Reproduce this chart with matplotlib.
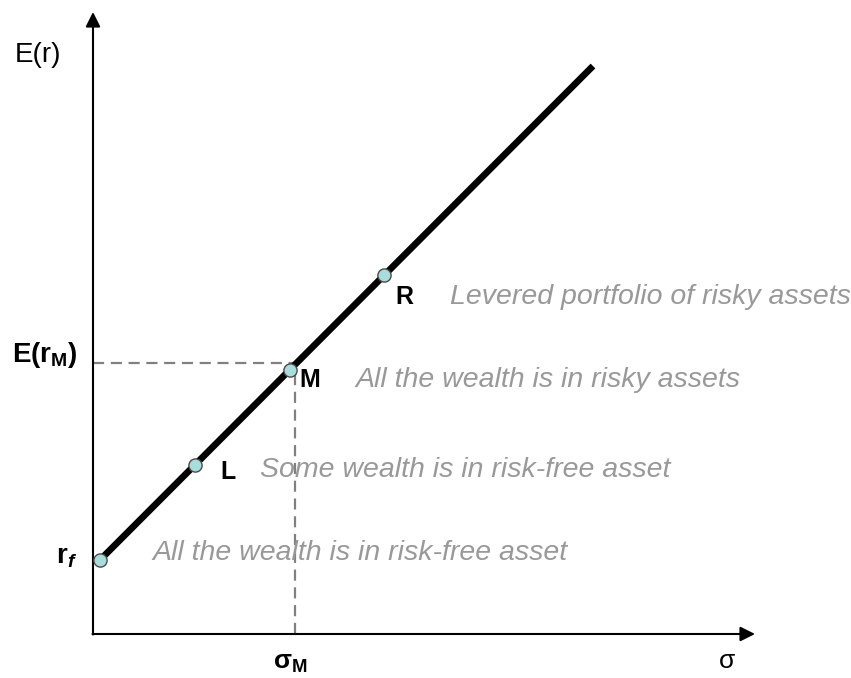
import matplotlib
matplotlib.use('Agg')
import matplotlib.pyplot as plt

plt.rcParams['font.family'] = ['Liberation Sans', 'DejaVu Sans']
plt.rcParams['mathtext.fontset'] = 'custom'
plt.rcParams['mathtext.rm'] = 'Liberation Sans'
plt.rcParams['mathtext.it'] = 'Liberation Sans:italic'
plt.rcParams['mathtext.bf'] = 'Liberation Sans:bold'
plt.rcParams['mathtext.bfit'] = 'Liberation Sans:bold:italic'

# capital allocation line: portfolios (sigma, E(r))
point_names = ['rf', 'L', 'M', 'R']
sigma = [7, 102, 197, 291]
exp_ret = [74, 169, 264, 359]
line_sigma = [7, 500]
line_ret = [74, 568]
sigma_M = 202
E_rM = 271

labels = ['L', 'M', 'R']
label_pos = [(127, 162), (206, 254), (302, 337)]
notes = ['All the wealth is in risk-free asset',
         'Some wealth is in risk-free asset',
         'All the wealth is in risky assets',
         'Levered portfolio of risky assets']
note_pos = [(59, 81), (167, 164), (262, 254), (357, 337)]

fig = plt.figure(figsize=(8.51, 6.78), dpi=100)
ax = fig.add_axes([0, 0, 1, 1])
ax.set_xlim(-93, 758)
ax.set_ylim(-44, 634)
ax.axis('off')

# axes with arrows
ax.annotate('', xy=(0, 622), xytext=(0, -0.5),
            arrowprops=dict(arrowstyle='-|>', color='black', lw=1.5,
                            mutation_scale=22, shrinkA=0, shrinkB=0))
ax.annotate('', xy=(662, 0), xytext=(-0.5, 0),
            arrowprops=dict(arrowstyle='-|>', color='black', lw=1.5,
                            mutation_scale=22, shrinkA=0, shrinkB=0))

# dashed guides to M
ax.plot([0, sigma_M], [E_rM, E_rM], color='#808080', lw=1.6, ls=(0, (5, 3)))
ax.plot([sigma_M, sigma_M], [0, exp_ret[2]], color='#808080', lw=1.6, ls=(0, (5, 3)))

ax.plot(line_sigma, line_ret, color='black', lw=4.8, solid_capstyle='butt', zorder=3)
ax.plot(sigma, exp_ret, 'o', ms=9.5, mfc='#a9dcdc', mec='#4a4a4a', mew=1, zorder=4)

for lab, (x, y) in zip(labels, label_pos):
    ax.text(x, y, lab, fontsize=18, fontweight='bold', ha='left', va='center')
for note, (x, y) in zip(notes, note_pos):
    ax.text(x, y, note, fontsize=20.5, style='italic', color='#999999',
            ha='left', va='center')

ax.text(-55, 579, 'E(r)', fontsize=20, ha='center', va='center')
ax.text(-81, 279, r'$\mathbf{E(r_M)}$', fontsize=20, ha='left', va='center')
ax.text(-16, 77, r'$\mathbf{r}_{\mathbfit{f}}$', fontsize=20, ha='right', va='center')
ax.text(197, -29, r'$\mathbf{\sigma_M}$', fontsize=19, ha='center', va='center')
ax.text(634, -27, 'σ', fontsize=19, ha='center', va='center')

fig.savefig('out.png', dpi=100)
